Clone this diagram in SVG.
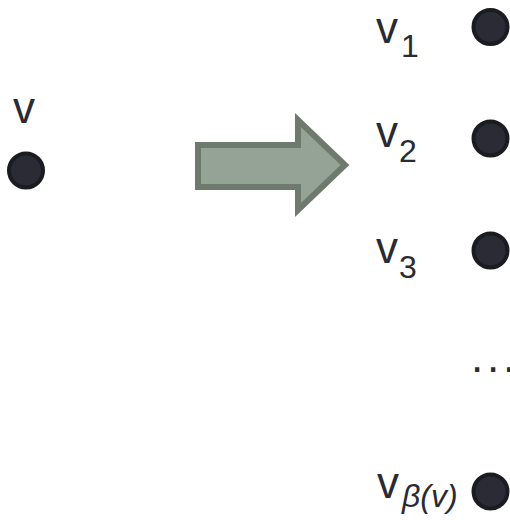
<svg xmlns="http://www.w3.org/2000/svg" width="510" height="520" viewBox="0 0 510 520">
  <style>
    .vertex { fill: #2b2b35; stroke: #1b1b22; stroke-width: 4; }
    .lbl { font-family: "Liberation Sans", Arial, sans-serif; font-size: 44px; fill: #2a2a33; }
    .sub { font-family: "Liberation Sans", Arial, sans-serif; font-size: 32px; fill: #2a2a33; }
  </style>
  <rect width="510" height="520" fill="#ffffff"/>

  <g id="node-v">
    <text class="lbl" x="13" y="123" font-size="42">v</text>
    <circle class="vertex" cx="26" cy="170.5" r="17"/>
  </g>

  <g id="connectors">
    <polygon points="198,145 298,145 298,120 345,165 298,210 298,187 198,187"
             fill="#95a396" stroke="#6e7a6e" stroke-width="6" stroke-linejoin="miter"/>
  </g>

  <g id="node-v1">
    <text class="lbl" x="376" y="43">v<tspan class="sub" dx="3" dy="14">1</tspan></text>
    <circle class="vertex" cx="490.5" cy="27" r="17"/>
  </g>

  <g id="node-v2">
    <text class="lbl" x="376" y="147">v<tspan class="sub" dx="1" dy="15">2</tspan></text>
    <circle class="vertex" cx="490.5" cy="138.5" r="17"/>
  </g>

  <g id="node-v3">
    <text class="lbl" x="376" y="263">v<tspan class="sub" dx="1" dy="15">3</tspan></text>
    <circle class="vertex" cx="490.5" cy="250.5" r="17"/>
  </g>

  <g id="ellipsis">
    <text class="lbl" x="471" y="372" letter-spacing="3.8">...</text>
  </g>

  <g id="node-vbeta">
    <text class="lbl" x="377" y="498">v<tspan class="sub" dx="3" dy="9" font-size="33" font-style="italic">β(v)</tspan></text>
    <circle class="vertex" cx="490.5" cy="491.5" r="17"/>
  </g>
</svg>
